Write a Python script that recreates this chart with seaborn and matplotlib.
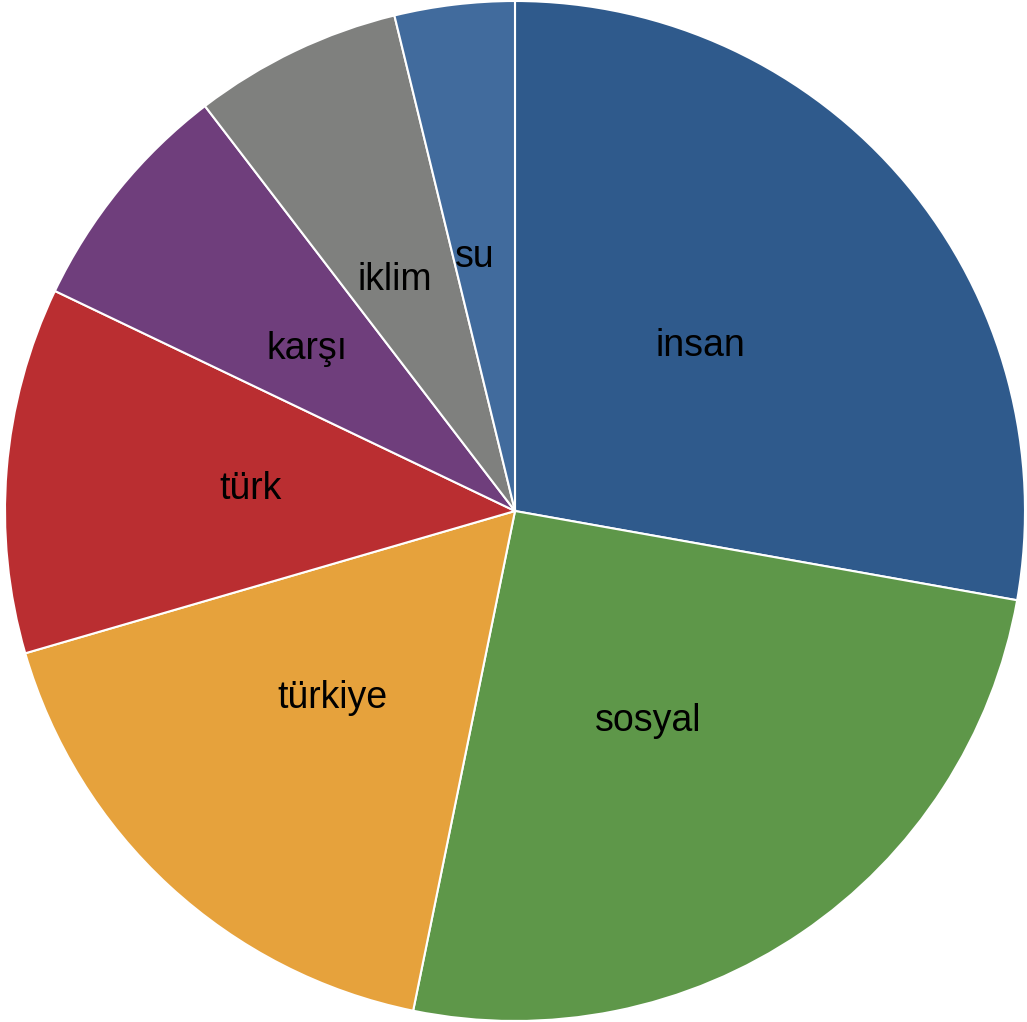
import matplotlib
matplotlib.use("Agg")
import matplotlib.pyplot as plt
import seaborn as sns

# ── Data ─────────────────────────────────────────────
labels = ["insan", "sosyal", "türkiye", "türk", "karşı", "iklim", "su"]
values = [27.8, 25.4, 17.3, 11.6, 7.5, 6.6, 3.8]
colors = ["#2F5A8C", "#5E9749", "#E6A23C", "#BA2E31", "#6F3E7C", "#7F807E", "#416B9D"]

sns.set_theme(style="white")
plt.rcParams["font.family"] = ["Liberation Sans", "DejaVu Sans"]

fig = plt.figure(figsize=(10.27, 10.22), dpi=100)
ax = fig.add_axes([0, 0, 1, 1])

palette = sns.color_palette(colors)
wedges, texts = ax.pie(
    values,
    labels=labels,
    colors=palette,
    startangle=90,
    counterclock=False,
    labeldistance=0.5,
    radius=1.0,
    wedgeprops=dict(edgecolor="white", linewidth=1.5),
    textprops=dict(fontsize=27, color="black"),
)
# labels in the original sit a touch left of the wedge midpoints
for t in texts:
    x, y = t.get_position()
    t.set_position((x - 0.02, y + 0.002))
    t.set_horizontalalignment("center")
    t.set_verticalalignment("center")

ax.set_aspect("auto")
ax.set_xlim(-515 / 510, 512 / 510)
ax.set_ylim(-511 / 510, 511 / 510)
ax.axis("off")

plt.savefig("out.png", dpi=100)
